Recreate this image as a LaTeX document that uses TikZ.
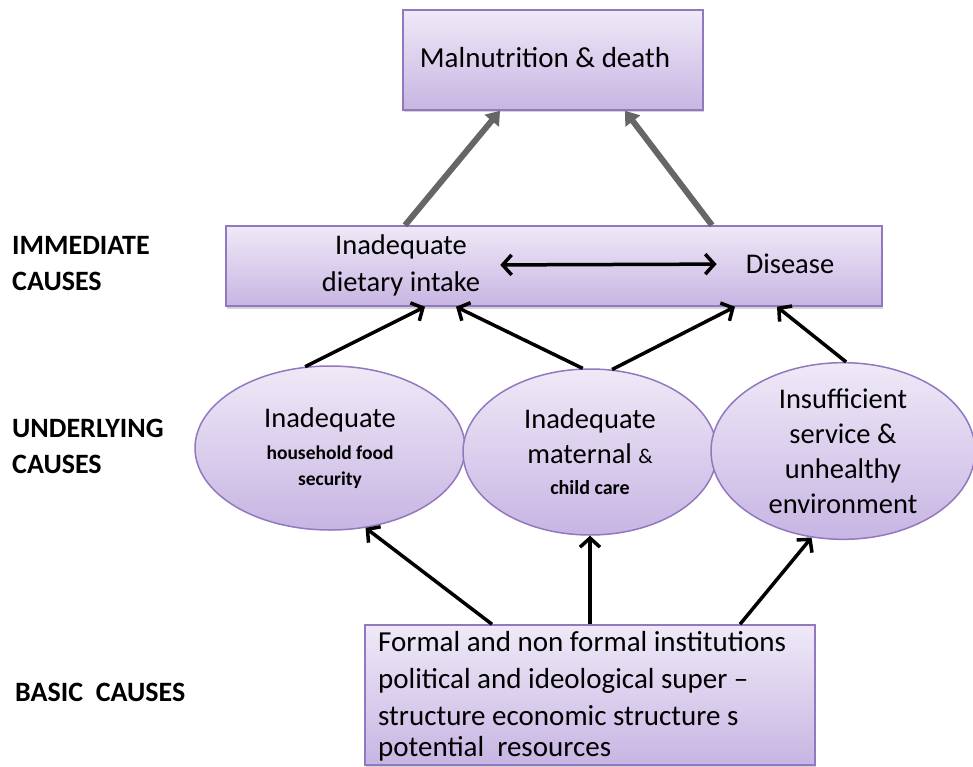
\documentclass[tikz,border=0pt]{standalone}
\usepackage{fontspec}
\setmainfont{Carlito}
\usepackage{tikz}
\usetikzlibrary{shapes.geometric,arrows.meta,shadows}

\definecolor{boxtop}{HTML}{EFE9F7}
\definecolor{boxbot}{HTML}{C7B5E3}
\definecolor{boxline}{HTML}{9278BE}

\begin{document}
\begin{tikzpicture}[x=1pt,y=-1pt,
    box/.style={rectangle, draw=boxline, line width=1.5pt, top color=boxtop, bottom color=boxbot,
        drop shadow={opacity=0.35, shadow xshift=1pt, shadow yshift=-2.5pt}, inner sep=0pt},
    oval/.style={ellipse, draw=boxline, line width=1.5pt, top color=boxtop, bottom color=boxbot,
        inner sep=0pt, align=center, font=\fontsize{28.5}{36}\selectfont},
    txt/.style={font=\fontsize{29}{37}\selectfont, inner sep=0pt, align=center},
    side/.style={font=\fontsize{28}{36}\selectfont\bfseries, inner sep=0pt, align=left, anchor=west},
    arr/.style={line width=3.5pt, -{Straight Barb[length=9pt,width=20pt]}},
    grayarr/.style={line width=6pt, black!60, -{Triangle[length=13pt,width=18pt]}}
    ]
    \useasboundingbox (0,0) rectangle (973,767);

    % boxes
    \node (mal) [box, minimum width=300, minimum height=100] at (553,60) {};
    \node (imm) [box, minimum width=656, minimum height=80] at (554,266) {};
    \node (bas) [box, minimum width=450, minimum height=140] at (590,695) {};

    \node (maltxt) [txt] at (545,58) {Malnutrition \& death};
    \node (diet) [txt, font=\fontsize{28.5}{37}\selectfont] at (401,265) {Inadequate\\dietary intake};
    \node (dis) [txt, font=\fontsize{28.5}{37}\selectfont] at (790,264) {Disease};
    \node (bastxt) [txt, align=left, anchor=north west] at (378,631)
        {Formal and non formal institutions\\political and ideological super --\\structure economic structure s\\[-6pt]potential\ \ resources};

    % ovals
    \node (food) [oval, minimum width=270, minimum height=164] at (330,448)
        {Inadequate\\[-4pt]{\fontsize{19.5}{26}\selectfont\bfseries household food}\\[-10pt]{\fontsize{19.5}{26}\selectfont\bfseries security}};
    \node (care) [oval, minimum width=254, minimum height=166] at (590,452)
        {Inadequate\\[-1pt]maternal {\fontsize{21}{26}\selectfont\&}\\[-5pt]{\fontsize{20}{26}\selectfont\bfseries child care}};
    \node (serv) [oval, minimum width=264, minimum height=164, font=\fontsize{28.5}{35}\selectfont] at (843,451)
        {Insufficient\\service \&\\unhealthy\\environment};

    % side labels
    \node (lim) [side] at (12,264) {IMMEDIATE\\CAUSES};
    \node (lun) [side] at (12,446) {UNDERLYING\\CAUSES};
    \node (lba) [side] at (15,692) {BASIC\ \ CAUSES};

    % arrows
    \draw[grayarr] ([xshift=-149pt]imm.north) -- ([xshift=-53pt]mal.south);
    \draw[grayarr] ([xshift=158pt]imm.north) -- ([xshift=72pt]mal.south);
    \draw[line width=3.5pt, {Straight Barb[length=9pt,width=20pt]}-{Straight Barb[length=9pt,width=20pt]},
        shorten <=20pt, shorten >=29pt] (diet.east) -- (dis.west);

    \draw[arr] (food.107) -- ([xshift=-129pt]imm.south);
    \draw[arr] (care.95) -- ([xshift=-98pt]imm.south);
    \draw[arr] (care.75) -- ([xshift=181pt]imm.south);
    \draw[arr] (serv.88) -- ([xshift=223pt]imm.south);

    \draw[arr] ([xshift=-98pt]bas.north) -- (food.-66);
    \draw[arr] (bas.north) -- (care.south);
    \draw[arr] ([xshift=150pt]bas.north) -- (serv.-110);
\end{tikzpicture}
\end{document}
